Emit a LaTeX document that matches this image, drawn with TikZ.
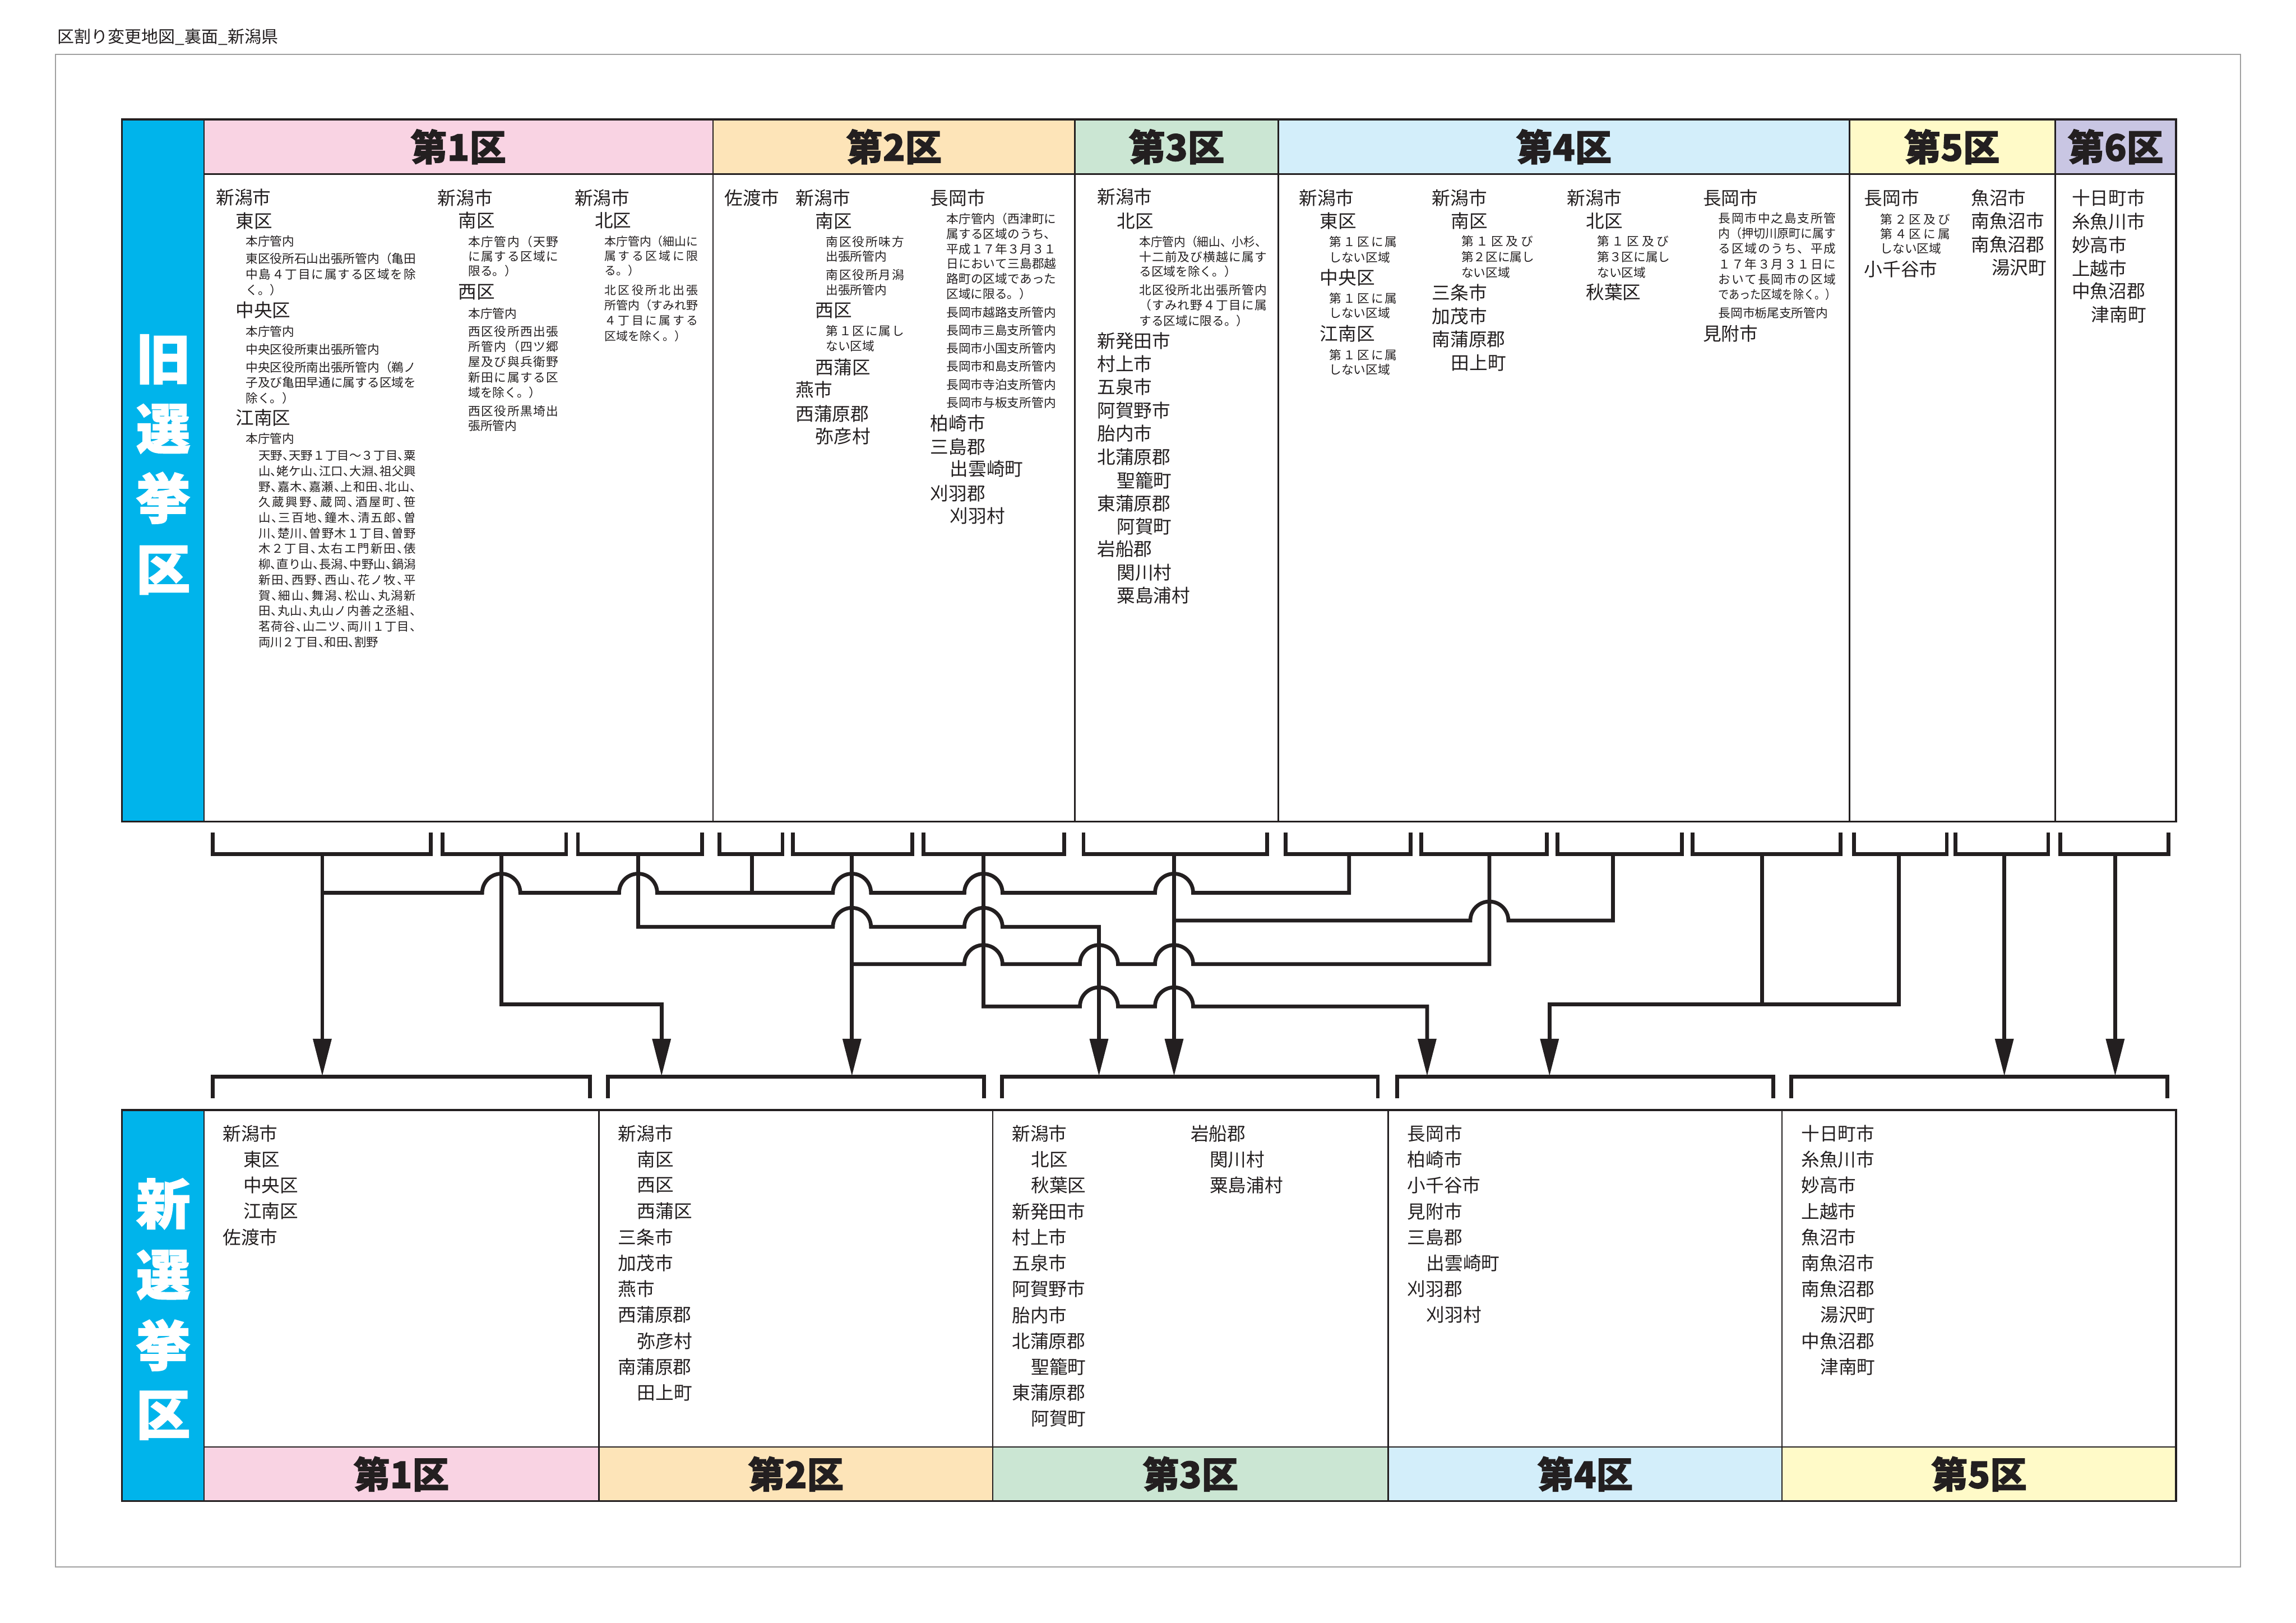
\documentclass[tikz,border=0pt]{standalone}
\usepackage{fontspec}
\setmainfont{Noto Sans CJK JP}
\newfontfamily\heavyfont{Noto Sans CJK JP}[BoldFeatures={FakeBold=1.6}]
\usepackage{graphicx}
\usetikzlibrary{calc}
\definecolor{kblue}{HTML}{00B4EB}
\definecolor{cpink}{HTML}{F9D3E3}
\definecolor{cpeach}{HTML}{FDE4B8}
\definecolor{cgreen}{HTML}{CBE6D3}
\definecolor{clblue}{HTML}{D3EEFA}
\definecolor{cyellow}{HTML}{FFFAC8}
\definecolor{clav}{HTML}{C9C6E3}
\definecolor{ink}{HTML}{231F20}
\makeatletter
\def\spreadit#1{\spread@a#1\spread@end}
\def\spread@a#1#2\spread@end{#1\ifx\relax#2\relax\else\hfil\spread@a#2\spread@end\fi}
\makeatother
\def\jw{100pt}
\newcommand\J[1]{\hbox to \jw{\spreadit{#1}}}
\newcommand\Sq[1]{\resizebox{\jw}{\height}{#1}}
\newcommand\tn{\makebox[.5em][l]{、}}
\def\hopr{13}
\def\hoph{13}
\newcommand\hop[2]{-- ({#1-\hopr},{#2}) .. controls ({#1-\hopr},{#2-0.5523*\hoph}) and ({#1-0.5523*\hopr},{#2-\hoph}) .. ({#1},{#2-\hoph}) .. controls ({#1+0.5523*\hopr},{#2-\hoph}) and ({#1+\hopr},{#2-0.5523*\hoph}) .. ({#1+\hopr},{#2})}
\newcommand\blk[6][]{\foreach \lline [count=\i] in {#6}{\node[sT,#1] (#2-\i) at ({#3},{#4+(\i-1)*#5}) {\lline};}}
\begin{document}
\begin{tikzpicture}[x=1pt,y=-1pt,
  mT/.style={anchor=west,inner sep=0pt,text=ink,font=\fontsize{12.5}{15}\selectfont},
  sT/.style={anchor=west,inner sep=0pt,text=ink,font=\fontsize{8.3}{10}\selectfont},
  hd/.style={inner sep=0pt,text=ink,font=\heavyfont\bfseries\fontsize{25}{30}\selectfont},
  vl/.style={inner sep=0pt,text=white,font=\heavyfont\bfseries\fontsize{37}{40}\selectfont},
  tline/.style={draw=ink,line width=1.4pt},
  iline/.style={draw=ink,line width=1pt},
  wire/.style={draw=ink,line width=2.6pt,line join=miter,line cap=butt},
  brk/.style={draw=ink,line width=2.6pt,line join=miter,line cap=butt},
  ahd/.style={fill=ink}]
\useasboundingbox (0,0) rectangle (1568,1108);
\fill[white] (0,0) rectangle (1568,1108);
\node[anchor=west,inner sep=0pt,text=ink,font=\fontsize{11.5}{13}\selectfont] (title) at (38.9,25.3) {区割り変更地図\_裏面\_新潟県};
\draw[gray!75,line width=0.8pt] (38,37) rectangle (1530,1070);

% ===== top table =====
\fill[kblue] (83.2,81.5) rectangle (139.3,561);
\fill[cpink] (139.3,81.5) rectangle (487,118.8);
\fill[cpeach] (487,81.5) rectangle (734,118.8);
\fill[cgreen] (734,81.5) rectangle (873,118.8);
\fill[clblue] (873,81.5) rectangle (1263,118.8);
\fill[cyellow] (1263,81.5) rectangle (1403.5,118.8);
\fill[clav] (1403.5,81.5) rectangle (1486,118.8);
\draw[iline] (139.3,118.8) -- (1486,118.8);
\foreach \xx in {139.3,487,734,873,1263,1403.5} \draw[iline] (\xx,81.5) -- (\xx,561);
\draw[tline] (83.2,81.5) rectangle (1486,561);
\node[hd] (h1) at (313,100.2) {第1区};
\node[hd] (h2) at (610.5,100.2) {第2区};
\node[hd] (h3) at (803.5,100.2) {第3区};
\node[hd] (h4) at (1068,100.2) {第4区};
\node[hd] (h5) at (1333,100.2) {第5区};
\node[hd] (h6) at (1444.7,100.2) {第6区};
\node[vl] (v1) at (111.5,245.4) {旧};
\node[vl] (v2) at (111.5,292.8) {選};
\node[vl] (v3) at (111.5,340) {挙};
\node[vl] (v4) at (111.5,389.3) {区};

% top main text
\foreach \tx/\xx/\yy [count=\i] in {
 新潟市/147.4/134.6, 東区/160.8/150.8, 中央区/160.8/211.6, 江南区/160.8/285.4,
 新潟市/298.7/135.2, 南区/312.7/150.6, 西区/312.7/199.5,
 新潟市/392.3/135.2, 北区/406/150.6,
 佐渡市/494.6/135.2, 新潟市/543.2/135.2, 南区/556.7/151, 西区/556.7/212.2, 西蒲区/556.7/250.9,
 燕市/543.2/266, 西蒲原郡/543.2/282.7, 弥彦村/556.7/297.9,
 長岡市/635.2/135.2, 柏崎市/635.2/289.2, 三島郡/635.2/305.1, 出雲崎町/648.6/320.3, 刈羽郡/635.2/337, 刈羽村/648.6/352.2,
 新潟市/749.2/134.4, 北区/762.5/150.8, 新発田市/749.2/232.6, 村上市/749.2/248.6, 五泉市/749.2/264.3,
 阿賀野市/749.2/280.1, 胎内市/749.2/296.1, 北蒲原郡/749.2/312, 聖籠町/762.5/327.9, 東蒲原郡/749.2/343.8,
 阿賀町/762.5/359.6, 岩船郡/749.2/375, 関川村/762.5/390.9, 粟島浦村/762.5/406.7,
 新潟市/887/135, 東区/901.3/151, 中央区/901.3/189.7, 江南区/901.3/227.7,
 新潟市/977.8/135, 南区/990.8/151, 三条市/977.8/200, 加茂市/977.8/216, 南蒲原郡/977.8/231.6, 田上町/990.8/247.9,
 新潟市/1070/135, 北区/1083/151, 秋葉区/1083/199.6,
 長岡市/1162.8/135, 見附市/1162.8/227.7,
 長岡市/1273/135.3, 小千谷市/1273/183.8, 魚沼市/1346/135.3, 南魚沼市/1346/150.8, 南魚沼郡/1346/166.8, 湯沢町/1360/182.8,
 十日町市/1414.7/135.3, 糸魚川市/1414.7/151.3, 妙高市/1414.7/167.3, 上越市/1414.7/183.3, 中魚沼郡/1414.7/198.8, 津南町/1428/214.8}
 {\node[mT] (om\i) at (\xx,\yy) {\tx};}

% top small text: district 1
\node[sT] (a1s1) at (167.6,164.8) {本庁管内};
\def\jw{116.3pt}
\blk{a1b}{167.6}{176.6}{10.7}{\J{東区役所石山出張所管内（亀田}, \J{中島４丁目に属する区域を除}, く。）}
\node[sT] (a1s2) at (167.6,226.5) {本庁管内};
\node[sT] (a1s3) at (167.6,238.6) {中央区役所東出張所管内};
\blk{a1c}{167.6}{250.7}{10.6}{\J{中央区役所南出張所管内（鵜ノ}, \J{子及び亀田早通に属する区域を}, 除く。）}
\node[sT] (a1s4) at (167.6,299.4) {本庁管内};
\def\jw{107.6pt}
\blk[font=\fontsize{8.2}{10}\selectfont]{a1l}{176.3}{311}{10.62}{
 \J{天野\tn 天野１丁目～３丁目\tn 粟},
 \J{山\tn 姥ケ山\tn 江口\tn 大淵\tn 祖父興},
 \J{野\tn 嘉木\tn 嘉瀬\tn 上和田\tn 北山\tn},
 \J{久蔵興野\tn 蔵岡\tn 酒屋町\tn 笹},
 \J{山\tn 三百地\tn 鐘木\tn 清五郎\tn 曽},
 \J{川\tn 楚川\tn 曽野木１丁目\tn 曽野},
 \J{木２丁目\tn 太右エ門新田\tn 俵},
 \J{柳\tn 直り山\tn 長潟\tn 中野山\tn 鍋潟},
 \J{新田\tn 西野\tn 西山\tn 花ノ牧\tn 平},
 \J{賀\tn 細山\tn 舞潟\tn 松山\tn 丸潟新},
 \J{田\tn 丸山\tn 丸山ノ内善之丞組\tn},
 \J{茗荷谷\tn 山二ツ\tn 両川１丁目\tn},
 両川２丁目\tn 和田\tn 割野}
\def\jw{61.6pt}
\blk{b1a}{319.6}{165}{9.95}{\J{本庁管内（天野}, \J{に属する区域に}, 限る。）}
\node[sT] (b1s1) at (319.6,214) {本庁管内};
\blk{b1b}{319.6}{226.4}{10.4}{\J{西区役所西出張}, \J{所管内（四ツ郷}, \J{屋及び與兵衛野}, \J{新田に属する区}, 域を除く。）}
\blk{b1c}{319.6}{280.7}{10}{\J{西区役所黒埼出}, 張所管内}
\def\jw{63.9pt}
\blk[font=\fontsize{8}{10}\selectfont]{c1a}{412.6}{165}{9.95}{\J{本庁管内（細山に}, \J{属する区域に限}, る。）}
\blk[font=\fontsize{8}{10}\selectfont]{c1b}{412.6}{198}{10.45}{\J{北区役所北出張}, \J{所管内（すみれ野}, \J{４丁目に属する}, 区域を除く。）}

% district 2
\def\jw{53.4pt}
\blk{d2a}{563.9}{165}{10}{\J{南区役所味方}, 出張所管内}
\blk{d2b}{563.9}{187.8}{10.1}{\J{南区役所月潟}, 出張所管内}
\blk{d2c}{563.9}{226.1}{10.1}{\J{第１区に属し}, ない区域}
\def\jw{75pt}
\blk{d2d}{646.2}{149.5}{10.22}{\J{本庁管内（西津町に}, \J{属する区域のうち、}, \J{平成１７年３月３１}, \J{日において三島郡越}, \J{路町の区域であった}, 区域に限る。）}
\blk{d2e}{646.2}{213.4}{12.28}{長岡市越路支所管内, 長岡市三島支所管内, 長岡市小国支所管内, 長岡市和島支所管内, 長岡市寺泊支所管内, 長岡市与板支所管内}

% district 3
\def\jw{87.1pt}
\blk{d3a}{777.8}{165.2}{10.1}{\Sq{本庁管内（細山、小杉、}, \J{十二前及び横越に属す}, る区域を除く。）}
\blk{d3b}{777.8}{197.9}{10.6}{\J{北区役所北出張所管内}, \J{（すみれ野４丁目に属}, する区域に限る。）}

% district 4
\def\jw{46.4pt}
\blk{d4a}{907.6}{165.1}{10.7}{\J{第１区に属}, しない区域}
\blk{d4b}{907.6}{203.6}{10.3}{\J{第１区に属}, しない区域}
\blk{d4c}{907.6}{242.4}{10}{\J{第１区に属}, しない区域}
\def\jw{48.9pt}
\blk{d4d}{997.8}{164.8}{10.6}{\J{第１区及び}, \J{第２区に属し}, ない区域}
\blk{d4e}{1090.6}{164.8}{10.6}{\J{第１区及び}, \J{第３区に属し}, ない区域}
\def\jw{80.2pt}
\blk{d4f}{1173.4}{149.1}{10.38}{\J{長岡市中之島支所管}, \Sq{内（押切川原町に属す}, \J{る区域のうち、平成}, \J{１７年３月３１日に}, \J{おいて長岡市の区域}, \Sq{であった区域を除く。）}}
\node[sT] (d4g) at (1173.4,213.6) {長岡市栃尾支所管内};

% district 5
\def\jw{47.5pt}
\blk{d5a}{1284}{149.8}{10}{\J{第２区及び}, \J{第４区に属}, しない区域}

% ===== bottom table =====
\fill[kblue] (83.2,758) rectangle (139.3,1025);
\fill[cpink] (139.3,988) rectangle (409,1025);
\fill[cpeach] (409,988) rectangle (678,1025);
\fill[cgreen] (678,988) rectangle (948,1025);
\fill[clblue] (948,988) rectangle (1217,1025);
\fill[cyellow] (1217,988) rectangle (1486,1025);
\draw[iline] (139.3,988) -- (1486,988);
\foreach \xx in {139.3,409,678,948,1217} \draw[iline] (\xx,758) -- (\xx,1025);
\draw[tline] (83.2,758) rectangle (1486,1025);
\node[hd] (f1) at (274,1006.5) {第1区};
\node[hd] (f2) at (543.5,1006.5) {第2区};
\node[hd] (f3) at (813,1006.5) {第3区};
\node[hd] (f4) at (1082.5,1006.5) {第4区};
\node[hd] (f5) at (1351.5,1006.5) {第5区};
\node[vl] (w1) at (111.5,822) {新};
\node[vl] (w2) at (111.5,870.5) {選};
\node[vl] (w3) at (111.5,918.5) {挙};
\node[vl] (w4) at (111.5,966.5) {区};

\foreach \tx/\xx/\yy [count=\i] in {
 新潟市/152/774, 東区/166/791.7, 中央区/166/809.4, 江南区/166/827.1, 佐渡市/152/844.8,
 新潟市/422/774, 南区/435/791.7, 西区/435/809.4, 西蒲区/435/827.1, 三条市/422/844.8, 加茂市/422/862.5,
 燕市/422/880.2, 西蒲原郡/422/897.9, 弥彦村/435/915.6, 南蒲原郡/422/933.3, 田上町/435/951,
 新潟市/691/774, 北区/704/791.7, 秋葉区/704/809.4, 新発田市/691/827.1, 村上市/691/844.8, 五泉市/691/862.5,
 阿賀野市/691/880.2, 胎内市/691/897.9, 北蒲原郡/691/915.6, 聖籠町/704/933.3, 東蒲原郡/691/951, 阿賀町/704/968.7,
 岩船郡/813/774, 関川村/826/791.7, 粟島浦村/826/809.4,
 長岡市/961/774, 柏崎市/961/791.7, 小千谷市/961/809.4, 見附市/961/827.1, 三島郡/961/844.8, 出雲崎町/974/862.5,
 刈羽郡/961/880.2, 刈羽村/974/897.9,
 十日町市/1230/774, 糸魚川市/1230/791.7, 妙高市/1230/809.4, 上越市/1230/827.1, 魚沼市/1230/844.8,
 南魚沼市/1230/862.5, 南魚沼郡/1230/880.2, 湯沢町/1243/897.9, 中魚沼郡/1230/915.6, 津南町/1243/933.3}
 {\node[mT] (nm\i) at (\xx,\yy) {\tx};}

% ===== connectors =====
\foreach \la/\ra [count=\i] in {145.3/294.3, 302.2/386.6, 394.7/479.6, 491.4/534.4, 541.6/622.9, 630.6/726.8, 740/865.2,
  878/963.2, 970.6/1056.4, 1063.6/1148.5, 1155.8/1257, 1266.2/1329.5, 1335.5/1398.8, 1407/1481}
 {\draw[brk] (\la,568.3) -- (\la,583.2) -- (\ra,583.2) -- (\ra,568.3);}
\foreach \la/\ra [count=\i] in {145.3/402.8, 415.2/672.1, 684.4/940.9, 954.2/1211, 1223.3/1480.1}
 {\draw[brk] (\la,750) -- (\la,735.2) -- (\ra,735.2) -- (\ra,750);}
\foreach \xx [count=\i] in {220.1,342.3,435.8,513.4,581.8,671.6,801.8,921.3,1017.1,1101.5,1203.3,1296.7,1368.8,1444.5}
 {\coordinate (s\i) at (\xx,583.2);}
\foreach \xx [count=\i] in {220.1,451.8,581.8,750.5,801.8,974.6,1058.2,1368.8,1444.5}
 {\coordinate (a\i) at (\xx,734.5);}
\coordinate (L1) at (0,609.6);
\coordinate (L2) at (0,632.9);
\coordinate (L2b) at (0,628.6);
\coordinate (L3) at (0,658.3);
\coordinate (L4) at (0,687.2);
\coordinate (L4a) at (0,685.7);
\coordinate (L5) at (0,685.8);

\draw[wire] (s1) -- ($(a1)+(0,-22)$);
\draw[wire] (s1 |- L1) \hop{342.3}{609.6} \hop{435.8}{609.6} -- (s4 |- L1) \hop{581.8}{609.6} \hop{671.6}{609.6} \hop{801.8}{609.6} -- (s8 |- L1) -- (s8);
\draw[wire] (s4) -- (s4 |- L1);
\draw[wire] (s2) -- (s2 |- L4a) -- (a2 |- L4a) -- ($(a2)+(0,-22)$);
\draw[wire] (s3) -- (s3 |- L2) \hop{581.8}{632.9} \hop{671.6}{632.9} -- (a4 |- L2) -- ($(a4)+(0,-22)$);
\draw[wire] (s5) -- ($(a3)+(0,-22)$);
\draw[wire] (s5 |- L3) \hop{671.6}{658.3} \hop{750.5}{658.3} \hop{801.8}{658.3} -- (s9 |- L3) -- (s9);
\draw[wire] (s6) -- (s6 |- L4) \hop{750.5}{687.2} \hop{801.8}{687.2} -- (a6 |- L4) -- ($(a6)+(0,-22)$);
\draw[wire] (s7) -- ($(a5)+(0,-22)$);
\draw[wire] (s7 |- L2b) \hop{1017.1}{628.6} -- (s10 |- L2b) -- (s10);
\draw[wire] (s12) -- (s12 |- L5) -- (a7 |- L5) -- ($(a7)+(0,-22)$);
\draw[wire] (s11) -- (s11 |- L5);
\draw[wire] (s13) -- ($(a8)+(0,-22)$);
\draw[wire] (s14) -- ($(a9)+(0,-22)$);
\foreach \i in {1,...,9}
 {\fill[ahd] (a\i) -- ++(-6.5,-25.2) -- ++(13,0) -- cycle;}
\end{tikzpicture}
\end{document}
